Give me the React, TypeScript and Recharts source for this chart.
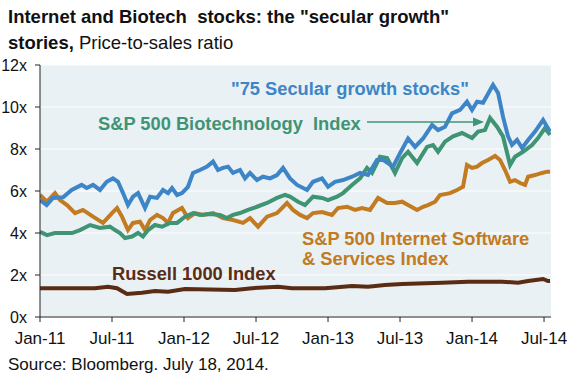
import React from "react";
import { LineChart, Line, XAxis, YAxis, CartesianGrid } from "recharts";

// x positions are months since Jan-2011
const tickMonths = [0, 6, 12, 18, 24, 30, 36, 42];
const tickLabels = ["Jan-11", "Jul-11", "Jan-12", "Jul-12", "Jan-13", "Jul-13", "Jan-14", "Jul-14"];
const yTicks = [0, 2, 4, 6, 8, 10, 12];

const secularMonths = [0, 0.56, 1.08, 1.92, 2.64, 3.47, 3.89, 4.42, 5.0, 5.56, 6.08, 6.5, 6.92, 7.33, 7.75, 8.17, 8.75, 9.17, 9.75, 10.25, 10.67, 11.0, 11.42, 11.83, 12.33, 12.75, 13.33, 13.92, 14.42, 14.83, 15.25, 15.67, 16.08, 16.67, 17.08, 17.5, 18.08, 18.58, 19.17, 19.75, 20.25, 20.83, 21.42, 22.25, 22.75, 23.5, 24.0, 24.58, 25.25, 26.0, 26.67, 27.33, 28.08, 28.58, 29.42, 30.0, 30.67, 31.25, 31.92, 32.67, 33.17, 33.75, 34.33, 35.0, 35.58, 36.0, 36.42, 36.92, 37.5, 37.75, 38.17, 38.58, 39.0, 39.33, 39.75, 40.17, 40.67, 41.25, 41.92, 42.25, 42.5];
const secularValues = [5.57, 5.33, 5.67, 5.7, 6.05, 6.29, 6.14, 6.29, 6.05, 6.44, 6.6, 6.44, 5.9, 5.33, 5.73, 5.9, 5.19, 5.73, 5.67, 6.05, 5.9, 6.14, 5.81, 5.9, 6.2, 6.86, 7.0, 7.16, 7.4, 7.0, 7.1, 7.16, 6.86, 7.0, 6.6, 6.86, 6.52, 6.68, 6.6, 6.76, 7.1, 6.6, 6.29, 6.05, 6.44, 6.6, 6.2, 6.44, 6.52, 6.68, 6.86, 6.76, 7.48, 7.48, 7.16, 7.8, 8.5, 8.1, 8.5, 9.14, 8.9, 9.06, 9.7, 9.86, 10.25, 9.86, 10.25, 10.2, 10.8, 11.05, 10.67, 9.54, 8.6, 8.2, 8.43, 8.05, 8.43, 8.83, 9.38, 9.06, 8.83];

const biotechMonths = [0, 0.58, 1.25, 1.92, 2.67, 3.33, 4.17, 5.0, 5.83, 6.25, 6.67, 7.08, 7.67, 8.17, 8.58, 9.0, 9.58, 10.17, 10.83, 11.42, 12.08, 12.75, 13.33, 14.17, 15.0, 15.58, 16.08, 16.67, 17.33, 18.08, 18.92, 19.75, 20.42, 20.83, 21.5, 22.08, 22.75, 23.5, 24.0, 24.75, 25.25, 26.0, 26.67, 27.25, 27.67, 28.33, 28.92, 29.58, 30.17, 30.67, 31.42, 32.25, 32.75, 33.17, 33.75, 34.42, 35.17, 36.0, 36.5, 37.08, 37.5, 38.08, 38.58, 39.17, 39.58, 40.25, 41.0, 41.5, 42.08, 42.5];
const biotechValues = [4.06, 3.9, 4.0, 4.0, 4.0, 4.14, 4.38, 4.24, 4.3, 4.14, 4.0, 3.76, 3.83, 4.0, 3.83, 4.14, 4.38, 4.3, 4.48, 4.48, 4.78, 4.95, 4.86, 4.9, 4.86, 4.71, 4.86, 4.95, 5.1, 5.25, 5.43, 5.67, 5.81, 5.73, 5.49, 5.33, 5.73, 5.67, 5.57, 5.73, 5.9, 6.29, 6.6, 7.1, 6.86, 7.63, 7.57, 6.86, 7.57, 7.87, 7.33, 8.1, 8.19, 7.87, 8.35, 8.6, 8.76, 8.52, 8.83, 8.9, 9.48, 9.06, 8.6, 7.24, 7.63, 7.87, 8.19, 8.52, 9.0, 8.67];

const internetMonths = [0, 0.58, 1.25, 1.67, 2.25, 2.92, 3.58, 4.42, 5.25, 6.0, 6.42, 6.83, 7.33, 7.75, 8.33, 8.75, 9.17, 9.75, 10.25, 10.67, 11.08, 11.83, 12.33, 12.92, 13.58, 14.42, 15.25, 16.08, 16.92, 17.5, 18.17, 18.92, 19.75, 20.58, 21.08, 21.67, 22.25, 22.75, 23.5, 24.33, 24.83, 25.58, 26.25, 26.83, 27.5, 28.17, 28.92, 29.58, 30.17, 30.67, 31.42, 31.92, 32.33, 32.92, 33.33, 34.17, 34.75, 35.25, 35.58, 36.0, 36.42, 36.83, 37.33, 37.92, 38.33, 38.75, 39.17, 39.58, 40.0, 40.42, 40.67, 41.25, 41.83, 42.25, 42.5];
const internetValues = [5.81, 5.49, 5.9, 5.57, 5.33, 4.95, 5.1, 4.78, 4.48, 4.95, 5.19, 4.78, 4.14, 4.48, 4.54, 4.14, 4.62, 4.86, 4.71, 4.48, 4.95, 5.19, 4.71, 4.95, 4.86, 4.95, 4.71, 4.62, 4.48, 4.71, 4.3, 4.78, 4.95, 5.43, 5.1, 4.86, 4.71, 4.95, 5.0, 4.86, 5.19, 5.25, 5.1, 5.19, 5.1, 5.67, 5.43, 5.43, 5.49, 5.33, 5.1, 5.25, 5.33, 5.49, 5.81, 5.9, 6.05, 6.2, 7.24, 7.1, 7.16, 7.33, 7.48, 7.67, 7.48, 7.0, 6.44, 6.52, 6.38, 6.29, 6.68, 6.76, 6.86, 6.92, 6.92];

const russellMonths = [0, 4.58, 5.67, 6.42, 7.25, 8.5, 9.58, 10.67, 12.08, 16.25, 17.67, 19.83, 21.0, 23.75, 26.0, 27.33, 28.75, 30.17, 33.5, 35.67, 38.5, 39.83, 40.67, 41.92, 42.33, 42.5];
const russellValues = [1.37, 1.37, 1.44, 1.37, 1.1, 1.16, 1.24, 1.2, 1.33, 1.29, 1.37, 1.44, 1.37, 1.37, 1.48, 1.44, 1.52, 1.57, 1.63, 1.68, 1.68, 1.63, 1.71, 1.81, 1.71, 1.71];

const toRows = (ms: number[], vs: number[]) => ms.map((m, i) => ({ m, v: vs[i] }));

const FONT = "'Liberation Sans', Arial, Helvetica, sans-serif";
const BLUE = "#3d85c6";
const GREEN = "#3f9474";
const ORANGE = "#c27b20";
const BROWN = "#5a2c14";

export default function App() {
  const tickFmt = (m: number) => tickLabels[tickMonths.indexOf(m)] ?? "";
  return (
    <div style={{ position: "absolute", left: 0, top: 0, width: 576, height: 376, background: "#fff", fontFamily: FONT }}>
      <LineChart width={576} height={376} margin={{ top: 65, right: 25, bottom: 29, left: 0 }}>
        <CartesianGrid vertical={false} stroke="#ffffff" strokeWidth={1.2} fill="#e9f1f5" />
        <XAxis
          dataKey="m"
          type="number"
          domain={[0, 42.58]}
          ticks={tickMonths}
          tickFormatter={tickFmt}
          allowDataOverflow
          height={30}
          tickSize={5}
          tickMargin={10}
          stroke="#222"
          tick={{ fill: "#111", fontSize: 17, fontFamily: FONT }}
        />
        <YAxis
          type="number"
          domain={[0, 12]}
          ticks={yTicks}
          tickFormatter={(v: number) => `${v}x`}
          width={40}
          tickSize={5}
          tickMargin={8}
          stroke="#222"
          tick={{ fill: "#111", fontSize: 16, fontFamily: FONT }}
        />
        <Line data={toRows(russellMonths, russellValues)} dataKey="v" stroke={BROWN} strokeWidth={4} dot={false} isAnimationActive={false} type="linear" />
        <Line data={toRows(internetMonths, internetValues)} dataKey="v" stroke={ORANGE} strokeWidth={4} dot={false} isAnimationActive={false} type="linear" />
        <Line data={toRows(biotechMonths, biotechValues)} dataKey="v" stroke={GREEN} strokeWidth={4} dot={false} isAnimationActive={false} type="linear" />
        <Line data={toRows(secularMonths, secularValues)} dataKey="v" stroke={BLUE} strokeWidth={4} dot={false} isAnimationActive={false} type="linear" />
      </LineChart>
      <svg width={576} height={376} style={{ position: "absolute", left: 0, top: 0, pointerEvents: "none" }} fontFamily={FONT}>
        <text x={8} y={23} fontSize={18.5} fontWeight="bold" fill="#111" style={{ whiteSpace: "pre" }}>
          {'Internet and Biotech  stocks: the "secular growth"'}
        </text>
        <text x={8} y={49} fontSize={18.5} fill="#111" style={{ whiteSpace: "pre" }}>
          <tspan fontWeight="bold">stories,</tspan>
          <tspan>{" Price-to-sales ratio"}</tspan>
        </text>
        <text x={231} y={95} fontSize={18.3} fontWeight="bold" fill={BLUE}>
          {'"75 Secular growth stocks"'}
        </text>
        <text x={98} y={130} fontSize={18.3} fontWeight="bold" fill={GREEN} style={{ whiteSpace: "pre" }}>
          {"S&P 500 Biotechnology  Index"}
        </text>
        <line x1={367} y1={122} x2={474} y2={122} stroke={GREEN} strokeWidth={1.6} />
        <polygon points="484,122 473,117.5 473,126.5" fill={GREEN} />
        <text x={302} y={245} fontSize={18.3} fontWeight="bold" fill={ORANGE}>
          S&amp;P 500 Internet Software
        </text>
        <text x={302} y={265} fontSize={18.3} fontWeight="bold" fill={ORANGE}>
          &amp; Services Index
        </text>
        <text x={112} y={280} fontSize={18.3} fontWeight="bold" fill={BROWN}>
          Russell 1000 Index
        </text>
        <text x={8} y={370} fontSize={17} fill="#111">
          Source: Bloomberg. July 18, 2014.
        </text>
      </svg>
    </div>
  );
}
